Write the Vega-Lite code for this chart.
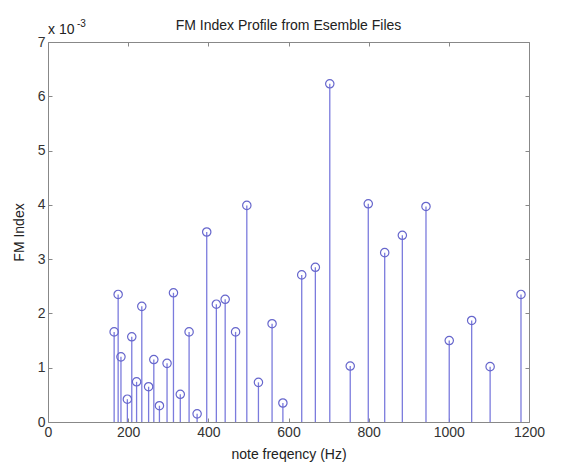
{
  "$schema": "https://vega.github.io/schema/vega-lite/v6.json",
  "autosize": "none",
  "width": 481,
  "height": 380,
  "padding": {"left": 48, "top": 42, "right": 32, "bottom": 40},
  "background": "white",
  "title": {"text": "FM Index Profile from Esemble Files", "fontSize": 14, "fontWeight": "normal", "font": "Liberation Sans", "color": "#222222", "offset": -14},
  "config": {
    "view": {"stroke": null},
    "axis": {"grid": false, "domainColor": "#888888", "tickColor": "#888888", "labelFont": "Liberation Sans", "titleFont": "Liberation Sans", "labelFontSize": 14, "titleFontSize": 14, "titleFontWeight": "normal", "labelColor": "#333333", "titleColor": "#222222", "tickSize": -4, "domainWidth": 1, "tickWidth": 1, "format": "d", "labelFlush": false}
  },
  "data": {"values": [
    {"f": 165, "v": 1.66}, {"f": 175, "v": 2.35}, {"f": 182, "v": 1.2}, {"f": 198, "v": 0.42},
    {"f": 209, "v": 1.57}, {"f": 221, "v": 0.74}, {"f": 234, "v": 2.13}, {"f": 251, "v": 0.65},
    {"f": 264, "v": 1.15}, {"f": 278, "v": 0.3}, {"f": 297, "v": 1.08}, {"f": 313, "v": 2.38},
    {"f": 330, "v": 0.51}, {"f": 352, "v": 1.66}, {"f": 372, "v": 0.15}, {"f": 396, "v": 3.5},
    {"f": 420, "v": 2.17}, {"f": 442, "v": 2.26}, {"f": 468, "v": 1.66}, {"f": 496, "v": 3.99},
    {"f": 525, "v": 0.73}, {"f": 559, "v": 1.81}, {"f": 586, "v": 0.35}, {"f": 633, "v": 2.71},
    {"f": 667, "v": 2.85}, {"f": 703, "v": 6.23}, {"f": 754, "v": 1.03}, {"f": 799, "v": 4.02},
    {"f": 840, "v": 3.12}, {"f": 884, "v": 3.44}, {"f": 943, "v": 3.97}, {"f": 1001, "v": 1.5},
    {"f": 1057, "v": 1.87}, {"f": 1103, "v": 1.02}, {"f": 1180, "v": 2.35}
  ]},
  "layer": [
    {
      "mark": {"type": "rule", "color": "#7b7bdd", "strokeWidth": 1.3},
      "encoding": {
        "x": {"field": "f", "type": "quantitative", "scale": {"domain": [0, 1200], "nice": false}, "axis": {"orient": "bottom", "values": [0, 200, 400, 600, 800, 1000, 1200], "format": "d", "labelFlush": false, "title": "note freqency (Hz)", "labelPadding": 7, "titlePadding": 8}},
        "y": {"field": "v", "type": "quantitative", "scale": {"domain": [0, 7], "nice": false}, "axis": {"orient": "left", "values": [0, 1, 2, 3, 4, 5, 6, 7], "format": "d", "labelFlush": false, "title": "FM Index", "labelPadding": 7, "titlePadding": 11}},
        "y2": {"datum": 0}
      }
    },
    {
      "mark": {"type": "point", "shape": "circle", "filled": false, "color": "#6666cc", "size": 70, "strokeWidth": 1.2, "opacity": 1},
      "encoding": {
        "x": {"field": "f", "type": "quantitative", "axis": {"orient": "top", "values": [0, 200, 400, 600, 800, 1000, 1200], "labels": false, "title": null}},
        "y": {"field": "v", "type": "quantitative", "axis": {"orient": "right", "values": [0, 1, 2, 3, 4, 5, 6, 7], "labels": false, "title": null}}
      }
    },
    {
      "data": {"values": [{"t": "x 10"}]},
      "mark": {"type": "text", "align": "left", "baseline": "alphabetic", "dy": -8, "font": "Liberation Sans", "fontSize": 14, "color": "#222222"},
      "encoding": {
        "x": {"datum": 0, "type": "quantitative", "axis": null},
        "y": {"datum": 7, "type": "quantitative", "axis": null},
        "text": {"field": "t"}
      }
    },
    {
      "data": {"values": [{"t": "-3"}]},
      "mark": {"type": "text", "align": "left", "baseline": "alphabetic", "dx": 29, "dy": -15, "font": "Liberation Sans", "fontSize": 10, "color": "#222222"},
      "encoding": {
        "x": {"datum": 0, "type": "quantitative", "axis": null},
        "y": {"datum": 7, "type": "quantitative", "axis": null},
        "text": {"field": "t"}
      }
    }
  ],
  "resolve": {"axis": {"x": "independent", "y": "independent"}}
}
